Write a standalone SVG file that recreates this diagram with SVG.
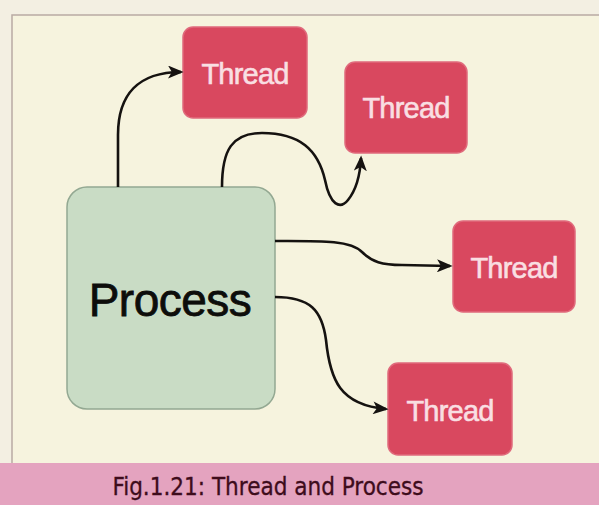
<svg xmlns="http://www.w3.org/2000/svg" width="599" height="505" viewBox="0 0 599 505">
<defs>
<style>
.thread rect{fill:#d9485f;stroke:#e06a7c;stroke-width:1.5}
.thread text{font-family:"Liberation Sans",Arial,sans-serif;font-size:29px;fill:#f9dfe2;stroke:#f9dfe2;stroke-width:0.6;text-anchor:middle;dominant-baseline:central;letter-spacing:-0.8px}
.conn path{fill:none;stroke:#151210;stroke-width:2.6;marker-end:url(#ah)}
</style>
<marker id="ah" viewBox="0 0 12 10" refX="10" refY="5" markerWidth="16" markerHeight="13" markerUnits="userSpaceOnUse" orient="auto">
<path d="M0,0 L12,5 L0,10 L3,5 Z" fill="#151210"/>
</marker>
</defs>
<rect x="0" y="0" width="599" height="505" fill="#f3efe2"/>
<rect x="12" y="15" width="600" height="450" fill="#f6f3de" stroke="#b9aba4" stroke-width="1.5"/>
<rect x="0" y="463" width="599" height="42" fill="#e4a3bf"/>
<text x="268" y="495" font-family="DejaVu Sans Condensed,'DejaVu Sans',sans-serif" font-size="24" fill="#3e0c1c" stroke="#3e0c1c" stroke-width="0.3" text-anchor="middle">Fig.1.21: Thread and Process</text>
<g id="process">
<rect x="67" y="187" width="208" height="222" rx="20" fill="#c9dcc5" stroke="#93a892" stroke-width="1.5"/>
<text x="170" y="300" font-family="'Liberation Sans',Arial,sans-serif" font-size="46" fill="#0d0d0b" stroke="#0d0d0b" stroke-width="0.8" text-anchor="middle" dominant-baseline="central" letter-spacing="-0.5">Process</text>
</g>
<g id="thread1" class="thread"><rect x="183" y="27" width="124" height="91" rx="10"/><text x="245" y="74">Thread</text></g>
<g id="thread2" class="thread"><rect x="345" y="62" width="122" height="91" rx="10"/><text x="406" y="108">Thread</text></g>
<g id="thread3" class="thread"><rect x="453" y="221" width="122" height="91" rx="10"/><text x="514" y="268">Thread</text></g>
<g id="thread4" class="thread"><rect x="388" y="363" width="124" height="92" rx="10"/><text x="450" y="411">Thread</text></g>
<g id="connectors" class="conn">
<path d="M118,187 L118,135 C118,95 138,72 181,72"/>
<path d="M222,187 C222,150 232,133 262,133 C300,133 318,150 325,180 C330,205 340,210 348,200 C356,190 360,178 361,158"/>
<path d="M275,241 C320,241 350,240 362,252 C372,262 382,265 402,265 L450,266"/>
<path d="M275,297 C310,297 322,310 326,340 C330,380 340,405 386,409"/>
</g>
</svg>
